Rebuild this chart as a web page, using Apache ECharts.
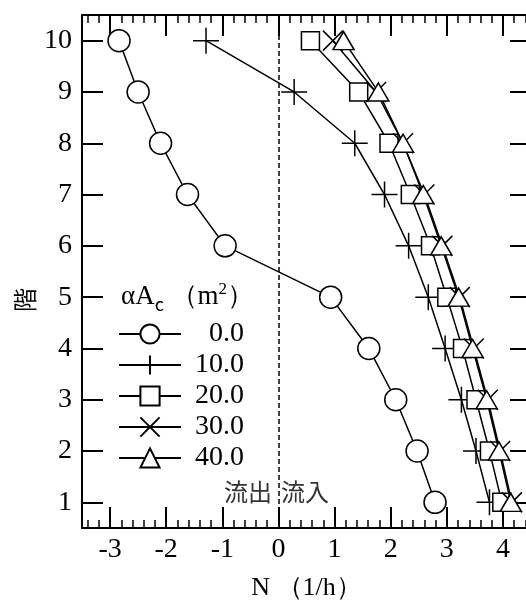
<!DOCTYPE html>
<html>
<head>
<meta charset="utf-8">
<script src="https://cdn.jsdelivr.net/npm/echarts@6/dist/echarts.min.js"></script>
<style>
  html, body { margin: 0; padding: 0; background: #fff; }
  #chart { width: 526px; height: 600px; }
</style>
</head>
<body>
<div id="chart"></div>
<script>
// Floors (y) and air change rate N per floor (x), one array per opening area αAc
const floors = [1, 2, 3, 4, 5, 6, 7, 8, 9, 10];
const areaNames = ['0.0', '10.0', '20.0', '30.0', '40.0'];
const nArea00 = [2.79, 2.47, 2.09, 1.61, 0.93, -0.95, -1.62, -2.10, -2.50, -2.84];
const nArea10 = [3.76, 3.52, 3.26, 2.97, 2.67, 2.32, 1.89, 1.36, 0.28, -1.29];
const nArea20 = [3.98, 3.76, 3.52, 3.28, 3.00, 2.71, 2.35, 1.97, 1.43, 0.57];
const nArea30 = [4.16, 3.95, 3.73, 3.48, 3.23, 2.92, 2.60, 2.22, 1.74, 0.97];
const nArea40 = [4.14, 3.93, 3.71, 3.46, 3.21, 2.90, 2.58, 2.22, 1.78, 1.16];
const xRange = [-3.5, 4.5];
const yRange = [0.5, 10.5];

const serif = "'Liberation Serif', 'DejaVu Serif', serif";
const cjk = "'Noto Sans CJK JP', 'Noto Sans CJK SC', sans-serif";

const allValues = [nArea00, nArea10, nArea20, nArea30, nArea40];
const markers = [
  { symbol: 'circle', size: 22 },
  { symbol: 'path://M0,10L20,10M10,0L10,20', size: 26 },
  { symbol: 'rect', size: 18 },
  { symbol: 'path://M0,0L20,20M20,0L0,20', size: 20 },
  { symbol: 'triangle', size: [21, 18] }
];

const series = areaNames.map((name, i) => ({
  name: name,
  type: 'line',
  xAxisIndex: 0,
  yAxisIndex: 0,
  data: allValues[i].map((v, k) => [v, floors[k]]),
  symbol: markers[i].symbol,
  symbolSize: markers[i].size,
  showAllSymbol: true,
  lineStyle: { color: '#000', width: 1.5 },
  itemStyle: { color: '#fff', borderColor: '#000', borderWidth: 1.5 },
  emphasis: { disabled: true },
  animation: false,
  z: 3 + i
}));

// dashed reference line at N = 0
series[0].markLine = {
  silent: true,
  symbol: ['none', 'none'],
  label: { show: false },
  lineStyle: { color: '#000', width: 1.5, type: [5, 3] },
  data: [{ xAxis: 0 }],
  animation: false
};

function xAxisBase(pos, labels) {
  return {
    type: 'value',
    position: pos,
    gridIndex: 0,
    min: xRange[0],
    max: xRange[1],
    splitNumber: 8,
    axisLine: { show: true, onZero: false, lineStyle: { color: '#000', width: 2 } },
    axisTick: { show: true, inside: true, length: 21, lineStyle: { color: '#000', width: 2 } },
    minorTick: { show: true, splitNumber: 5, length: 8, lineStyle: { color: '#000', width: 1.5 } },
    splitLine: { show: false },
    axisLabel: {
      show: labels, showMinLabel: false, showMaxLabel: false,
      color: '#000', fontFamily: serif, fontSize: 28, margin: 8
    }
  };
}

function yAxisBase(pos, labels) {
  return {
    type: 'value',
    position: pos,
    gridIndex: 0,
    min: yRange[0],
    max: yRange[1],
    splitNumber: 10,
    axisLine: { show: true, onZero: false, lineStyle: { color: '#000', width: 2 } },
    axisTick: { show: true, inside: true, length: 21, lineStyle: { color: '#000', width: 2 } },
    splitLine: { show: false },
    axisLabel: {
      show: labels, showMinLabel: false, showMaxLabel: false,
      color: '#000', fontFamily: serif, fontSize: 28, margin: 10
    }
  };
}

const xMain = xAxisBase('bottom', true);
xMain.name = 'N （1/h）';
xMain.nameLocation = 'middle';
xMain.nameGap = 47;
xMain.nameTextStyle = { color: '#000', fontFamily: serif, fontSize: 26 };

const option = {
  backgroundColor: '#fff',
  animation: false,
  grid: { left: 82, top: 15, width: 449, height: 513, containLabel: false, outerBoundsMode: 'none' },
  xAxis: [xMain, xAxisBase('top', false)],
  yAxis: [yAxisBase('left', true), yAxisBase('right', false)],
  legend: {
    orient: 'vertical',
    left: 118,
    top: 320,
    itemWidth: 62,
    itemHeight: 24,
    itemGap: 3,
    padding: 0,
    selectedMode: false,
    data: areaNames,
    formatter: name => '{v|' + name + '}',
    textStyle: {
      color: '#000',
      fontFamily: serif,
      fontSize: 28,
      rich: { v: { width: 58, align: 'right', fontFamily: serif, fontSize: 28, color: '#000' } }
    }
  },
  graphic: [
    {
      type: 'text', left: 121, top: 281, silent: true,
      style: {
        text: '{a|αA}{s|c}{a| （m}{p|2}{a|）}',
        rich: {
          a: { fontFamily: serif, fontSize: 27, color: '#000', lineHeight: 32 },
          s: { fontFamily: cjk, fontSize: 18, color: '#000', lineHeight: 18, verticalAlign: 'bottom' },
          p: { fontFamily: serif, fontSize: 17, color: '#000', lineHeight: 17, verticalAlign: 'top' }
        }
      }
    },
    {
      type: 'text', x: 272, y: 492, silent: true,
      style: { text: '流出', fontFamily: cjk, fontSize: 24, fill: '#333', align: 'right', verticalAlign: 'middle' }
    },
    {
      type: 'text', x: 281, y: 492, silent: true,
      style: { text: '流入', fontFamily: cjk, fontSize: 24, fill: '#333', align: 'left', verticalAlign: 'middle' }
    },
    {
      type: 'text', x: 25, y: 300, rotation: Math.PI / 2, silent: true,
      style: { text: '階', fontFamily: cjk, fontSize: 24, fill: '#000', align: 'center', verticalAlign: 'middle' }
    }
  ],
  series: series
};

const chart = echarts.init(document.getElementById('chart'), null, { renderer: 'canvas' });
chart.setOption(option);
</script>
</body>
</html>
